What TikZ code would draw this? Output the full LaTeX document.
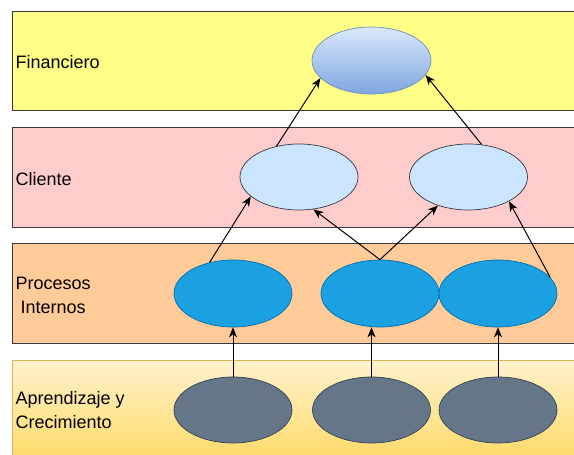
\documentclass[tikz,border=0pt]{standalone}
\usepackage{fontspec}
\setmainfont{Liberation Sans}
\usetikzlibrary{shapes.geometric,arrows.meta}
\definecolor{bandline}{HTML}{36393D}
\definecolor{finfill}{HTML}{FFFF88}
\definecolor{clifill}{HTML}{FFCCCC}
\definecolor{profill}{HTML}{FFCC99}
\definecolor{aptop}{HTML}{FFF2CC}
\definecolor{apbot}{HTML}{FFD966}
\definecolor{apline}{HTML}{D6B656}
\definecolor{fintop}{HTML}{DAE8FC}
\definecolor{finbot}{HTML}{7EA6E0}
\definecolor{finline}{HTML}{6C8EBF}
\definecolor{cliell}{HTML}{CCE5FF}
\definecolor{proell}{HTML}{1BA1E2}
\definecolor{proline}{HTML}{006EAF}
\definecolor{apell}{HTML}{647687}
\definecolor{apelline}{HTML}{314354}
\tikzset{
  band/.style={draw=bandline, line width=0.9pt},
  ell/.style={ellipse, minimum width=118pt, minimum height=67pt, inner sep=0pt, line width=0.7pt},
  lbl/.style={anchor=west, inner sep=0pt, align=left, font=\fontsize{18}{24}\selectfont, text=black},
  arr/.style={-{Stealth[length=10pt,width=8pt,inset=3pt]}, line width=1pt, black}
}
\begin{document}
\begin{tikzpicture}[x=1pt,y=-1pt]
\useasboundingbox (0,0) rectangle (574,455);
\clip (0,0) rectangle (574,455);
\fill[white] (0,0) rectangle (574,455);
% bands
\draw[band, fill=finfill] (12,11) rectangle (590,110);
\draw[band, fill=clifill] (12,127) rectangle (590,227);
\draw[band, fill=profill] (12,243) rectangle (590,343);
\draw[draw=apline, line width=0.9pt, top color=aptop, bottom color=apbot] (12,360) rectangle (590,462);
% labels
\node[lbl] (tfin) at (15.5,62) {Financiero};
\node[lbl] (tcli) at (15.5,179) {Cliente};
\node[lbl] (tpro) at (15.5,295) {Procesos\\\hspace*{5pt}Internos};
\node[lbl] (tap) at (15.5,410.5) {Aprendizaje y\\Crecimiento};
% ellipses
\node[ell, minimum width=119pt, draw=finline, top color=fintop, bottom color=finbot] (fin) at (371.5,60.5) {};
\node[ell, minimum height=66pt, draw=bandline, fill=cliell] (cl1) at (299,177) {};
\node[ell, minimum height=66pt, draw=bandline, fill=cliell] (cl2) at (468.5,177) {};
\node[ell, draw=proline, fill=proell] (pr1) at (233,293.5) {};
\node[ell, draw=proline, fill=proell] (pr2) at (380,293.5) {};
\node[ell, draw=proline, fill=proell] (pr3) at (498,293.5) {};
\node[ell, minimum height=66pt, draw=apelline, fill=apell] (ap1) at (233,410) {};
\node[ell, minimum height=66pt, draw=apelline, fill=apell] (ap2) at (371.5,410) {};
\node[ell, minimum height=66pt, draw=apelline, fill=apell] (ap3) at (498,410) {};
% connectors
\draw[arr] (cl1.126.6) -- (fin.199.5);
\draw[arr] (cl2.68.3) -- (fin.345.4);
\draw[arr] (pr1.127) -- (cl1.202.7);
\draw[arr] (pr2.north) -- (cl1.294.4);
\draw[arr] (pr2.north) -- (cl2.223.6);
\draw[arr] (pr3.17.9) -- (cl2.329.5);
\draw[arr] (ap1.north) -- (pr1.south);
\draw[arr] (ap2.north) -- (ap2.north |- pr2.south);
\draw[arr] (ap3.north) -- (pr3.south);
\end{tikzpicture}
\end{document}
